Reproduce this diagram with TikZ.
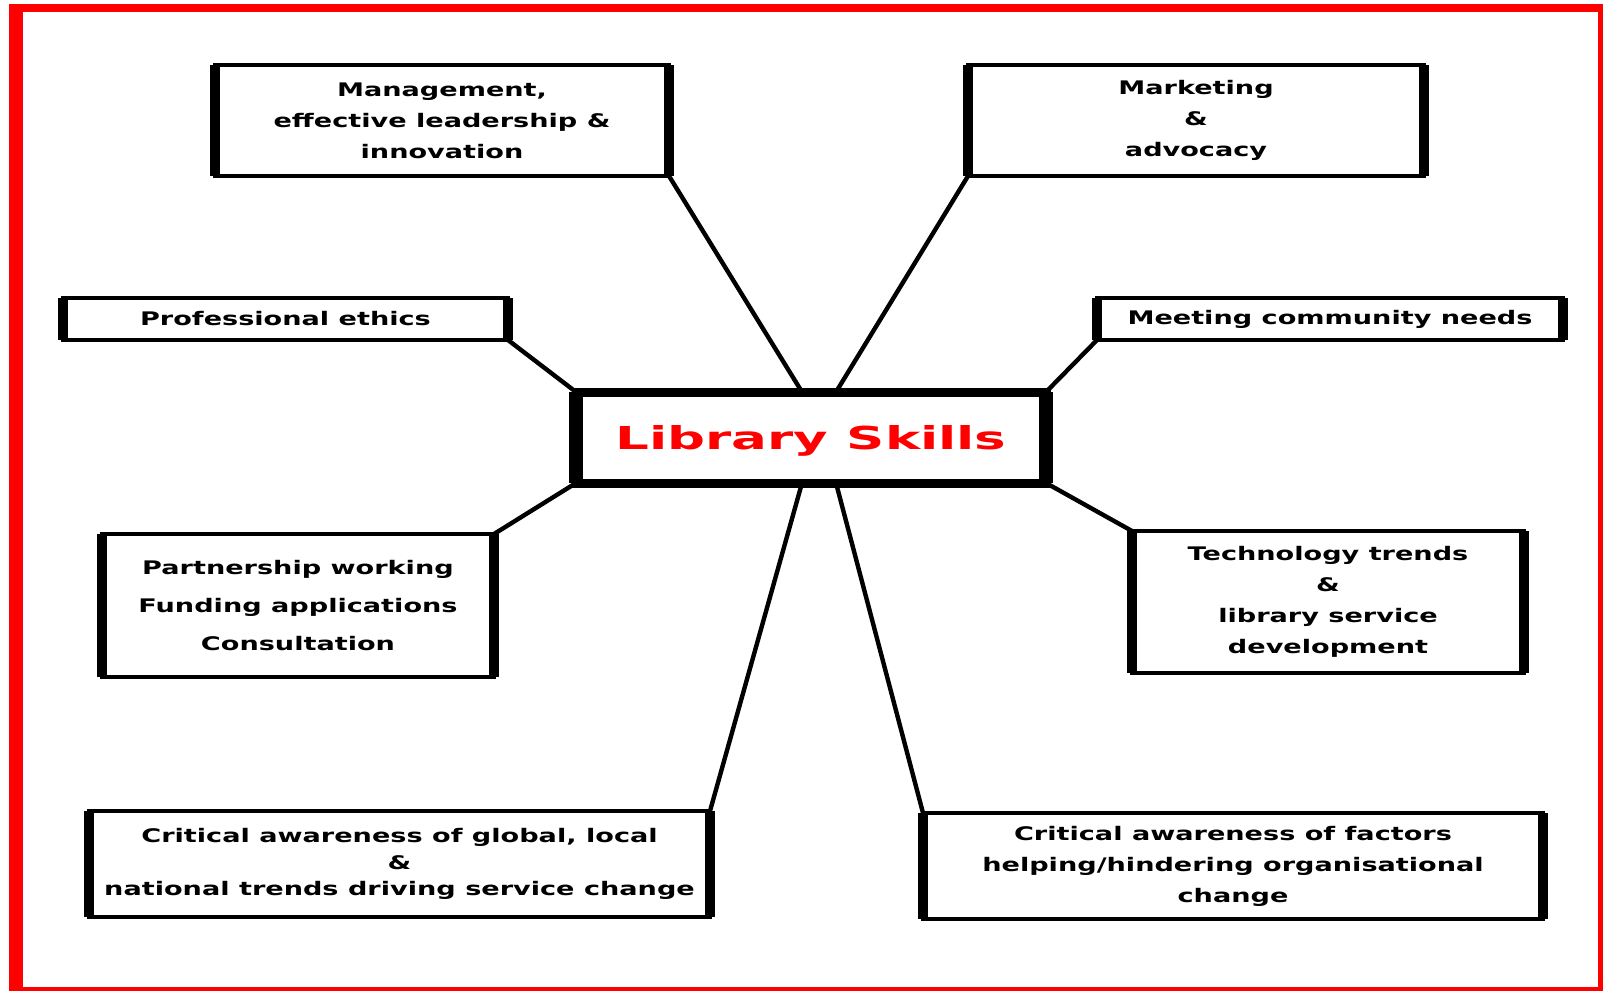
\documentclass[tikz,border=0pt]{standalone}
\usepackage{fontspec}
\setmainfont{DejaVu Sans}
\newfontfamily\skillfont[FakeStretch=1.45]{DejaVu Sans}
\newfontfamily\titlefont[FakeStretch=1.68]{DejaVu Sans}
\usetikzlibrary{calc}

\tikzset{
  skillbox/.style={draw, line width=2pt, outer sep=0pt, inner sep=0pt, align=center, font=\skillfont\bfseries\fontsize{9.35}{15.5}\selectfont},
  thickside/.style={line width=4.8pt},
  spoke/.style={line width=2.2pt},
}

\begin{document}
\begin{tikzpicture}[x=0.5pt,y=0.5pt,yscale=-1,xscale=1]
    \useasboundingbox (0,0) rectangle (1604,991);

    % red frame
    \fill[red] (9,4) rectangle (1603,991);
    \fill[white] (23,12) rectangle (1598,987);

    % centre
    \node [draw, line width=4.5pt, outer sep=0pt, minimum width=235pt, minimum height=45.5pt, text depth=0pt, text=red, font=\titlefont\bfseries\fontsize{15.8}{19}\selectfont] (lib) at (811,437.5) {Library Skills};
    \draw [line width=7pt] (lib.north west) -- (lib.south west) (lib.north east) -- (lib.south east);

    % skills round the centre
    \node [skillbox, minimum width=227pt, minimum height=55.5pt] (mgmt) at (442,120.5) {Management,\\effective leadership \&\\innovation};
    \node [skillbox, minimum width=228pt, minimum height=55.5pt] (mkt) at (1196,120.5) {Marketing\\\&\\advocacy};
    \node [skillbox, minimum width=222.5pt, minimum height=21pt] (ethics) at (285.5,319) {Professional ethics};
    \node [skillbox, minimum width=233pt, minimum height=21pt] (needs) at (1330,319) {Meeting community needs};
    \node [skillbox, minimum width=196pt, minimum height=71.5pt, font=\skillfont\bfseries\fontsize{9.35}{18.8}\selectfont] (partner) at (298,605.5) {Partnership working\\Funding applications\\Consultation};
    \node [skillbox, minimum width=196pt, minimum height=71pt] (tech) at (1328,602) {Technology trends\\\&\\library service\\development};
    \node [skillbox, minimum width=310.5pt, minimum height=53pt, font=\skillfont\bfseries\fontsize{9.35}{13.3}\selectfont] (global) at (399.5,864) {Critical awareness of global, local\\\&\\national trends driving service change};
    \node [skillbox, minimum width=310pt, minimum height=53pt] (factors) at (1233,866) {Critical awareness of factors\\helping/hindering organisational\\change};

    \foreach \n in {mgmt,mkt,ethics,needs,partner,tech,global,factors}
      \draw [thickside] (\n.north west) -- (\n.south west) (\n.north east) -- (\n.south east);

    % spokes
    \draw [spoke] (mgmt.south east) -- ([xshift=-4.5pt]lib.north);
    \draw [spoke] (mkt.south west) -- ([xshift=12.5pt]lib.north);
    \draw [spoke] (ethics.south east) -- (lib.north west);
    \draw [spoke] (needs.south west) -- (lib.north east);
    \draw [spoke] (partner.north east) -- (lib.south west);
    \draw [spoke] (tech.north west) -- (lib.south east);
    \draw [spoke] (global.north east) -- ([xshift=-4.5pt]lib.south);
    \draw [spoke] (factors.north west) -- ([xshift=12.5pt]lib.south);
\end{tikzpicture}
\end{document}
